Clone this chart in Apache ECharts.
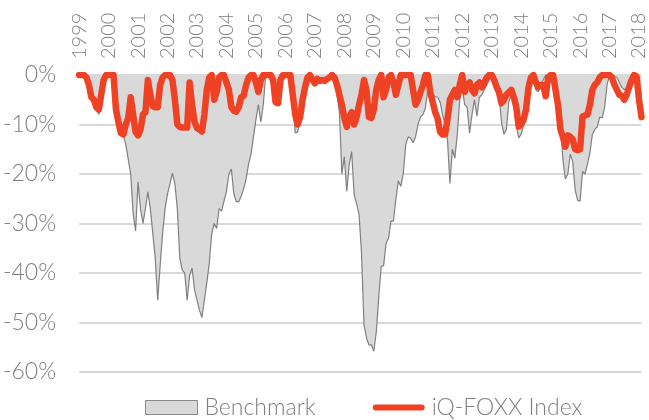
<!DOCTYPE html>
<html>
<head>
<meta charset="utf-8">
<script src="https://cdn.jsdelivr.net/npm/echarts@6/dist/echarts.min.js"></script>
<style>
html,body{margin:0;padding:0;background:#fff;}
#chart{width:649px;height:420px;}
</style>
</head>
<body>
<div id="chart"></div>
<script>
// Tick labels (years), monthly points from Jan 1999 to Feb 2018
var years = ['1999','2000','2001','2002','2003','2004','2005','2006','2007','2008','2009','2010','2011','2012','2013','2014','2015','2016','2017','2018'];
var lastYearMonths = 2;

// Benchmark drawdown (%), monthly
var benchmark = [
  0,0,0,-0.5,-2,-4.5,-6,-6.5,-8,-4,-1,0,
  0,0,0,-7,-9.5,-11.7,-12.2,-14,-17,-20,-28,-31.5,
  -21.6,-27,-30,-27,-23.6,-27,-32,-37,-45.5,-38.5,-32,-27,
  -24,-22,-19.8,-22,-27,-37,-39.4,-40,-45.5,-40.5,-39,-43.4,
  -45.5,-47.5,-49,-45.5,-42,-38,-32,-30,-31,-27,-27.5,-25.5,
  -23.5,-20,-19,-24,-25.6,-25.6,-24.5,-23,-21,-18,-16,-12.5,
  -9,-6,-9.5,-6,0,0,0,-1,-5.5,-6,-2,0,
  0,0,0,-5,-11.7,-11.5,-9,-6,-2.5,-0.5,0,-1,
  -1.7,-1,-1.2,-1,-1.2,-0.8,-0.5,0,-1,-4,-7.6,-20,
  -16.5,-23.5,-18,-15.5,-24.2,-26,-28.2,-36,-50.5,-53,-54.5,-54.5,
  -55.8,-52,-45,-38.7,-38.5,-34,-33,-29.5,-29.5,-25,-21.4,-22.5,
  -20,-14.1,-12.5,-12.8,-13.7,-12.5,-10,-8.5,-8,-6.7,-3,-2,
  -4,-4.4,-4.5,-5.5,-8,-10,-13,-21.9,-15,-16.8,-12,-5,
  -2.5,-6,-6.5,-11.7,-8,-5,-8.3,-4.5,-4,-3,-2,-1,
  0,0,-2,-4,-9.5,-12,-11,-5.4,-4,-6,-10,-12.7,
  -12,-10,-8.5,-3,-1.5,-1,-3,-3.4,-2,-1,0,0,
  0,0,-0.5,-4,-10,-17,-21,-20,-16,-17.5,-23.2,-25.3,
  -25.5,-19.5,-20,-18,-15.8,-12,-11,-10.5,-8.5,-8.7,-6.5,-2,
  0,0,-0.3,-0.5,-1.5,-2.5,-3,-2.5,-1.5,-0.5,0,0,
  -2,-4
];

// iQ-FOXX Index drawdown (%), monthly
var iqfoxx = [
  0,0,0,-0.5,-2,-4.5,-5,-6.5,-7,-4,-1,0,
  0,0,0,-7,-9.5,-11.7,-12,-10,-8.7,-4.5,-8,-11.5,
  -12.2,-11,-8,-7.5,-1,-4,-6.3,-6.5,-6.5,-2,-0.5,0,
  0,0,-1,-5,-10,-10.5,-10.6,-10.6,-10.6,-1.5,-6,-9.5,
  -10.7,-11,-11.4,-8,-3,-0.5,0,-5,-3.5,-0.5,0,0,
  -1.5,-3,-6.5,-7.2,-7.4,-6.5,-4.5,-4.2,-2,-0.5,0,0,
  -1.5,-3.4,-1,0,0,0,0,-1,-5.5,-5.7,-1,0,
  0,0,0,-4,-8,-10,-8.5,-5,-2.5,-0.5,0,-1,
  -1.7,-0.8,-1.2,-1,-1.2,-0.8,-0.5,0,-0.5,-2,-4,-6,
  -8.7,-10.5,-8.5,-7.5,-10,-8.5,-6,-4,-1,-3,-8.5,-8.7,
  -7,-3,-1,0,-4.5,-3,-0.5,0,-1.5,-4,-2,0,
  0,0,0,0,-3,-6,-5,-3.5,-2,0,0,-3.5,
  -5.5,-7.5,-8.8,-11.5,-12,-12,-9,-5,-4,-3,-4.5,-2,
  0,-3.4,-2,-1.5,-3,-3.7,-2,-1.5,-2.5,-1.5,-0.5,0,
  0,-1,-2.4,-3.5,-5.7,-5,-4,-3.5,-3,-4.5,-6.4,-10.4,
  -10,-9,-7,-2.5,-0.5,0,-1.5,-2.4,-2,-2,-4.3,-0.5,
  0,0,-3,-6,-11,-12.5,-14.5,-12.2,-12.5,-13,-15,-15.2,
  -15,-8.4,-8.2,-8,-6,-3,-2,-1.5,-0.5,0,0,0,
  0,-0.5,-2,-3,-4,-4.2,-5,-4,-2.4,-1,0,-0.3,
  -5,-8.5
];

var seriesNames = ['Benchmark', 'iQ-FOXX Index'];

// Month categories built from the year list
var months = [];
years.forEach(function (y, i) {
  var n = (i === years.length - 1) ? lastYearMonths : 12;
  for (var m = 1; m <= n; m++) months.push(y + '-' + (m < 10 ? '0' + m : m));
});

var FONT = 'Lato';
var TXT = '#7f7f7f';
var RED = '#ef4123';

var chart = echarts.init(document.getElementById('chart'), null, {renderer: 'canvas'});
chart.setOption({
  animation: false,
  backgroundColor: '#ffffff',
  grid: {left: 78, right: 7, top: 75, bottom: 48, containLabel: false},
  legend: {
    top: 396,
    left: 145,
    padding: 0,
    itemGap: 57,
    itemWidth: 52,
    itemHeight: 14,
    textStyle: {fontFamily: FONT, fontSize: 23, fontWeight: 300, color: TXT, padding: [0,0,0,2]},
    data: [
      {name: seriesNames[0], icon: 'rect', itemStyle: {color: '#d9d9d9', borderColor: '#8a8a8a', borderWidth: 1}},
      {name: seriesNames[1], icon: 'path://M3,0 L49,0 A3,3 0 0 1 49,6 L3,6 A3,3 0 0 1 3,0 Z', itemStyle: {color: RED}}
    ]
  },
  xAxis: {
    type: 'category',
    position: 'top',
    boundaryGap: false,
    data: months,
    axisLine: {show: false},
    axisTick: {show: false},
    splitLine: {show: false},
    axisLabel: {
      interval: function (idx) { return idx % 12 === 0; },
      formatter: function (v) { return v.slice(0, 4); },
      rotate: 90,
      margin: 16,
      hideOverlap: false,
      fontFamily: FONT,
      fontSize: 20,
      fontWeight: 300,
      color: TXT
    }
  },
  yAxis: {
    type: 'value',
    min: -60,
    max: 0,
    interval: 10,
    axisLine: {show: false},
    axisTick: {show: false},
    splitLine: {lineStyle: {color: '#d9d9d9', width: 2}},
    axisLabel: {
      formatter: '{value}%',
      margin: 23,
      fontFamily: FONT,
      fontSize: 23,
      fontWeight: 300,
      color: TXT
    }
  },
  series: [
    {
      name: seriesNames[0],
      type: 'line',
      data: benchmark,
      showSymbol: false,
      symbol: 'none',
      lineStyle: {color: '#808080', width: 1.2},
      itemStyle: {color: '#d9d9d9'},
      areaStyle: {color: '#d9d9d9', opacity: 1},
      z: 2
    },
    {
      name: seriesNames[1],
      type: 'line',
      data: iqfoxx,
      showSymbol: false,
      symbol: 'none',
      lineStyle: {color: RED, width: 6.5, cap: 'round', join: 'round'},
      itemStyle: {color: RED},
      z: 3
    }
  ]
});
</script>
</body>
</html>
